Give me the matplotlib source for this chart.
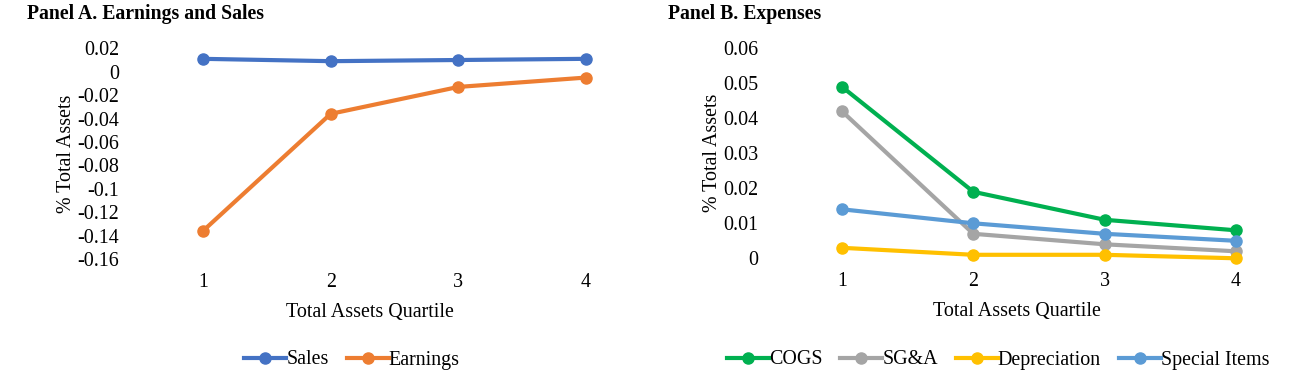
import matplotlib
matplotlib.use("Agg")
import matplotlib.pyplot as plt

plt.rcParams['font.family'] = ['Liberation Serif', 'DejaVu Serif']

quartiles = [1, 2, 3, 4]
quartile_labels = ["1", "2", "3", "4"]

sales = [0.011, 0.009, 0.010, 0.011]
earnings = [-0.136, -0.036, -0.013, -0.005]

cogs = [0.049, 0.019, 0.011, 0.008]
sga = [0.042, 0.007, 0.004, 0.002]
depreciation = [0.003, 0.001, 0.001, 0.000]
special_items = [0.014, 0.010, 0.007, 0.005]

W, H = 1289, 385
fig = plt.figure(figsize=(W / 100, H / 100), dpi=100)

FS = 14.4
TITLE_FS = 14.2


def make_axes(left_px, right_px, top_px, bottom_px):
    return fig.add_axes([left_px / W, 1 - bottom_px / H,
                         (right_px - left_px) / W, (bottom_px - top_px) / H])


def style(ax, ylim, yticks, yticklabels, x1px, x4px, left_px, right_px):
    scale = (x4px - x1px) / 3.0
    ax.set_xlim(1 - (x1px - left_px) / scale, 4 + (right_px - x4px) / scale)
    ax.set_ylim(*ylim)
    ax.set_yticks(yticks)
    ax.set_yticklabels(yticklabels, fontsize=FS)
    ax.set_xticks(quartiles)
    ax.set_xticklabels(quartile_labels, fontsize=FS)
    for s in ax.spines.values():
        s.set_visible(False)
    ax.tick_params(axis='y', length=0, pad=4)
    ax.tick_params(axis='x', length=0, pad=10)
    ax.set_xlabel("Total Assets Quartile", fontsize=FS, labelpad=8)
    ax.set_ylabel("% Total Assets", fontsize=FS, labelpad=1)
    ax.patch.set_visible(False)


def fmt(v):
    s = f"{v:.2f}".rstrip('0').rstrip('.')
    if s in ("-0", ""):
        s = "0"
    return s


lw = 3.0
ms = 8

# Panel A
axA = make_axes(125, 615, 48.3, 259)
yA = [0.02 - 0.02 * i for i in range(10)]
hA1, = axA.plot(quartiles, sales, color='#4472C4', lw=lw, marker='o', ms=ms, label='Sales', clip_on=False)
hA2, = axA.plot(quartiles, earnings, color='#ED7D31', lw=lw, marker='o', ms=ms, label='Earnings', clip_on=False)
style(axA, (-0.16, 0.02), yA, [fmt(v) for v in yA], 203, 586, 125, 615)

# Panel B
axB = make_axes(764, 1270, 48.3, 258.3)
yB = [0.01 * i for i in range(7)]
hB1, = axB.plot(quartiles, cogs, color='#00B050', lw=lw, marker='o', ms=ms, label='COGS', clip_on=False)
hB2, = axB.plot(quartiles, sga, color='#A5A5A5', lw=lw, marker='o', ms=ms, label='SG&A', clip_on=False)
hB3, = axB.plot(quartiles, depreciation, color='#FFC000', lw=lw, marker='o', ms=ms, label='Depreciation', clip_on=False)
hB4, = axB.plot(quartiles, special_items, color='#5B9BD5', lw=lw, marker='o', ms=ms, label='Special Items', clip_on=False)
style(axB, (0, 0.06), yB, [fmt(v) for v in yB], 842, 1236, 764, 1270)

fig.text(27 / W, 1 - 14 / H, "Panel A. Earnings and Sales", fontsize=TITLE_FS,
         fontweight='bold', ha='left', va='center')
fig.text(668 / W, 1 - 14 / H, "Panel B. Expenses", fontsize=TITLE_FS,
         fontweight='bold', ha='left', va='center')

leg_kw = dict(frameon=False, fontsize=FS, handlelength=2.1, handletextpad=0.0,
              columnspacing=0.9, loc='center', borderaxespad=0, borderpad=0)
fig.legend(handles=[hA1, hA2], ncol=2, bbox_to_anchor=(352 / W, 1 - 360 / H), **leg_kw)
fig.legend(handles=[hB1, hB2, hB3, hB4], ncol=4, bbox_to_anchor=(998 / W, 1 - 360 / H), **leg_kw)

fig.savefig("out.png", dpi=100)
